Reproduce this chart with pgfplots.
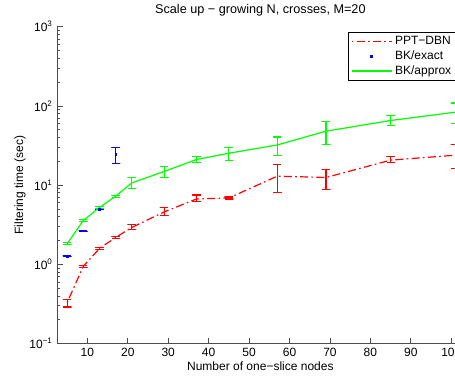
\documentclass[border=0pt]{standalone}
\usepackage{pgfplots}
\pgfplotsset{compat=1.18}
\usepackage{fontspec}
\setmainfont{Liberation Sans}
\definecolor{mred}{rgb}{1,0,0}
\definecolor{mgreen}{rgb}{0,1,0}
\definecolor{mblue}{rgb}{0,0,1}
\definecolor{maxis}{rgb}{0.3,0.3,0.3}

\pgfplotsset{
  ebar/.style={draw=#1, solid, line width=0.9pt, line join=round, forget plot, unbounded coords=jump, mark=none},
}

\begin{document}
\begin{tikzpicture}
\begin{axis}[
  scale only axis,
  width=304.6pt, height=237.8pt,
  ymode=log,
  xmin=2.57, xmax=103,
  ymin=0.1, ymax=1000,
  axis x line*=bottom, axis y line*=left,
  axis line style={draw=maxis, line width=0.75pt},
  tick align=inside,
  tick style={draw=maxis, line width=0.6pt},
  major tick length=4pt, minor tick length=2pt,
  xtick={10,20,...,100},
  ytick={0.1,1,10,100,1000},
  yticklabels={10\textsuperscript{−1},10\textsuperscript{0},10\textsuperscript{1},10\textsuperscript{2},10\textsuperscript{3}},
  /pgf/number format/assume math mode=true,
  font=\fontsize{9}{11}\selectfont,
  ticklabel style={font=\fontsize{9}{11}\selectfont},
  title={Scale up − growing N, crosses, M=20},
  title style={yshift=-2pt, font=\fontsize{9.5}{11}\selectfont},
  xlabel={Number of one−slice nodes},
  ylabel={Filtering time (sec)},
  xlabel style={yshift=3pt},
  ylabel style={yshift=-4pt},
  legend style={at={(rel axis cs:0.9845,0.983)}, anchor=north east,
    draw=black, line width=0.9pt, font=\fontsize{9}{11}\selectfont,
    inner xsep=2pt, inner ysep=1pt, row sep=-1pt},
  legend cell align=left,
]
\coordinate (sw) at (rel axis cs:0,0);
\coordinate (ne) at (rel axis cs:1,1);
% PPT-DBN
\addplot[draw=mred, line width=0.9pt, dash pattern=on 1.2pt off 2.5pt on 6pt off 2.5pt,
  legend image code/.code={%
    \path[draw=mred, draw opacity=0] (0pt,0pt) -- (1pt,0pt);
    \draw[draw=mred, line width=1pt, dash pattern=on 1.2pt off 2.5pt on 6pt off 2.5pt] (0pt,0pt) -- (30pt,0pt);}]
  coordinates {(5,0.33) (9,0.95) (13,1.59) (17,2.19) (21,2.93) (29,4.6) (37,6.7) (45,6.9) (57,13.0) (69,12.5) (85,20.7) (101,23.9)};
\addlegendentry{PPT−DBN}
\addplot[ebar=mred] coordinates {
(4,0.29)(6,0.29)(5,0.29)(5,0.365)(4,0.365)(6,0.365) (5,nan)
(8,0.92)(10,0.92)(9,0.92)(9,0.98)(8,0.98)(10,0.98) (9,nan)
(12,1.55)(14,1.55)(13,1.55)(13,1.63)(12,1.63)(14,1.63) (13,nan)
(16,2.11)(18,2.11)(17,2.11)(17,2.27)(16,2.27)(18,2.27) (17,nan)
(20,2.73)(22,2.73)(21,2.73)(21,3.18)(20,3.18)(22,3.18) (21,nan)
(28,4.1)(30,4.1)(29,4.1)(29,5.25)(28,5.25)(30,5.25) (29,nan)
(36,6.2)(38,6.2)(37,6.2)(37,7.5)(36,7.5)(38,7.5) (37,nan)
(44,6.7)(46,6.7)(45,6.7)(45,7.1)(44,7.1)(46,7.1) (45,nan)
(56,8.0)(58,8.0)(57,8.0)(57,18.4)(56,18.4)(58,18.4) (57,nan)
(68,8.9)(70,8.9)(69,8.9)(69,15.6)(68,15.6)(70,15.6) (69,nan)
(84,19.2)(86,19.2)(85,19.2)(85,23.0)(84,23.0)(86,23.0) (85,nan)
(100,16.2)(102,16.2)(101,16.2)(101,32.6)(100,32.6)(102,32.6)
};
% BK/exact
\addplot[ebar=mblue] coordinates {
(4,1.25)(6,1.25)(5,1.25)(5,1.29)(4,1.29)(6,1.29) (5,nan)
(8,2.62)(10,2.62)(9,2.62)(9,2.68)(8,2.68)(10,2.68) (9,nan)
(12,4.88)(14,4.88)(13,4.88)(13,5.08)(12,5.08)(14,5.08) (13,nan)
(16,18.8)(18,18.8)(17,18.8)(17,29.9)(16,29.9)(18,29.9)
};
\addplot[draw=mblue, fill=mblue, only marks, mark=square*, mark size=0.6pt,
  legend image code/.code={\fill[fill=mblue] (14.4pt,-0.7pt) rectangle (15.8pt,0.7pt);}]
  coordinates {(5,1.27) (9,2.65) (13,4.98) (17,24.4)};
\addlegendentry{BK/exact}
% BK/approx
\addplot[draw=mgreen, line width=0.9pt,
  legend image code/.code={\draw[draw=mgreen, line width=1pt] (0pt,0pt) -- (30pt,0pt);}]
  coordinates {(5,1.82) (9,3.59) (13,5.23) (17,7.26) (21,10.7) (29,14.9) (37,21.1) (45,25.3) (57,32.2) (69,48) (85,65.5) (101,83.3)};
\addlegendentry{BK/approx}
\addplot[ebar=mgreen] coordinates {
(4,1.77)(6,1.77)(5,1.77)(5,1.87)(4,1.87)(6,1.87) (5,nan)
(8,3.49)(10,3.49)(9,3.49)(9,3.69)(8,3.69)(10,3.69) (9,nan)
(12,5.08)(14,5.08)(13,5.08)(13,5.38)(12,5.38)(14,5.38) (13,nan)
(16,7.06)(18,7.06)(17,7.06)(17,7.46)(16,7.46)(18,7.46) (17,nan)
(20,9.1)(22,9.1)(21,9.1)(21,12.4)(20,12.4)(22,12.4) (21,nan)
(28,12.4)(30,12.4)(29,12.4)(29,17.4)(28,17.4)(30,17.4) (29,nan)
(36,19.2)(38,19.2)(37,19.2)(37,23.0)(36,23.0)(38,23.0) (37,nan)
(44,20.6)(46,20.6)(45,20.6)(45,29.9)(44,29.9)(46,29.9) (45,nan)
(56,23.7)(58,23.7)(57,23.7)(57,40.6)(56,40.6)(58,40.6) (57,nan)
(68,32.6)(70,32.6)(69,32.6)(69,63)(68,63)(70,63) (69,nan)
(84,56)(86,56)(85,56)(85,76.3)(84,76.3)(86,76.3) (85,nan)
(100,60)(102,60)(101,60)(101,109)(100,109)(102,109)
};
\end{axis}
\pgfresetboundingbox
\useasboundingbox ([shift={(-43pt,-25pt)}]sw) rectangle ([shift={(298.3pt,20pt)}]sw |- ne);
\end{tikzpicture}
\end{document}
